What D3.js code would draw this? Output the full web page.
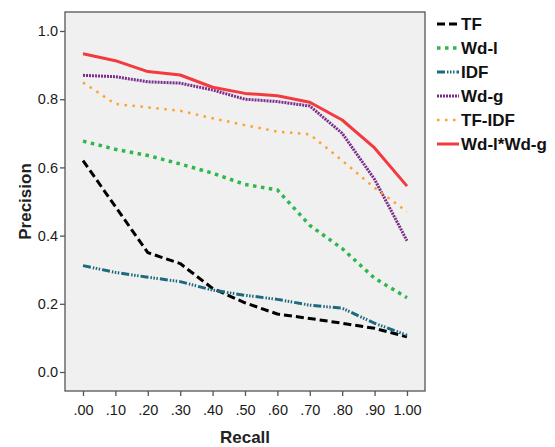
<!DOCTYPE html>
<html>
<head>
<meta charset="utf-8">
<script src="https://cdn.jsdelivr.net/npm/d3@7"></script>
<style>
  body { margin: 0; background: #fff; }
  text { font-family: "Liberation Sans", Arial, sans-serif; }
</style>
</head>
<body>
<div id="chart"></div>
<script>
// recall points on the x axis
const recall = [0, 0.1, 0.2, 0.3, 0.4, 0.5, 0.6, 0.7, 0.8, 0.9, 1.0];
const recallLabels = [".00", ".10", ".20", ".30", ".40", ".50", ".60", ".70", ".80", ".90", "1.00"];
const precisionTicks = [0, 0.2, 0.4, 0.6, 0.8, 1.0];

const seriesNames = ["TF", "Wd-l", "IDF", "Wd-g", "TF-IDF", "Wd-l*Wd-g"];
const tf =      [0.62, 0.485, 0.35, 0.318, 0.245, 0.203, 0.17, 0.157, 0.143, 0.128, 0.103];
const wdl =     [0.677, 0.653, 0.635, 0.61, 0.583, 0.55, 0.534, 0.43, 0.362, 0.275, 0.218];
const idf =     [0.312, 0.292, 0.278, 0.265, 0.24, 0.225, 0.213, 0.196, 0.187, 0.143, 0.108];
const wdg =     [0.87, 0.866, 0.851, 0.847, 0.827, 0.80, 0.793, 0.78, 0.70, 0.565, 0.385];
const tfidf =   [0.849, 0.786, 0.776, 0.766, 0.744, 0.724, 0.705, 0.697, 0.62, 0.54, 0.47];
const wdlWdg =  [0.933, 0.913, 0.881, 0.871, 0.835, 0.817, 0.81, 0.791, 0.739, 0.657, 0.545];

const styles = [
    { color: "#000000", width: 3, dash: "8,4" },
    { color: "#2cb84c", width: 3.5, dash: "3.5,4.5" },
    { color: "#1d6a7e", width: 3, dash: "8,2,1.5,1.5,1.5,1.5,1.5,2" },
    { color: "#7a2d8c", width: 3, dash: "2,1" },
    { color: "#ffa033", width: 2.5, dash: "2.5,5.5" },
    { color: "#f23a3f", width: 3, dash: null }
];

const values = [tf, wdl, idf, wdg, tfidf, wdlWdg];

const W = 555, H = 447;
const frame = { left: 65, top: 12, right: 425, bottom: 391 };

const svg = d3.select("#chart").append("svg")
    .attr("width", W)
    .attr("height", H);

const x = d3.scaleLinear()
    .domain([-0.0556, 1.0556])
    .range([frame.left, frame.right]);

const y = d3.scaleLinear()
    .domain([-0.0557, 1.0557])
    .range([frame.bottom, frame.top]);

// plot background
svg.append("rect")
    .attr("x", frame.left)
    .attr("y", frame.top)
    .attr("width", frame.right - frame.left)
    .attr("height", frame.bottom - frame.top)
    .attr("fill", "#f0f0f0")
    .attr("stroke", "#555")
    .attr("stroke-width", 1.3);

// axes
const xAxis = svg.append("g")
    .attr("transform", `translate(0,${frame.bottom})`)
    .call(d3.axisBottom(x).tickValues(recall).tickFormat((d, i) => recallLabels[i]).tickSize(5).tickSizeOuter(0));

const yAxis = svg.append("g")
    .attr("transform", `translate(${frame.left},0)`)
    .call(d3.axisLeft(y).tickValues(precisionTicks).tickFormat(d3.format(".1f")).tickSize(5).tickSizeOuter(0));

[xAxis, yAxis].forEach(g => {
    g.select(".domain").remove();
    g.selectAll("line").attr("stroke", "#555").attr("stroke-width", 1.3);
    g.selectAll("text")
        .attr("fill", "#1a1a1a")
        .attr("font-size", "14.5px")
        .style("font-family", "'Liberation Sans', Arial, sans-serif");
});
xAxis.selectAll("text").attr("dy", "1.12em");
yAxis.selectAll("text").attr("x", -7);

// axis titles
svg.append("text")
    .attr("x", (frame.left + frame.right) / 2)
    .attr("y", 443)
    .attr("text-anchor", "middle")
    .attr("font-size", "17px")
    .attr("font-weight", "bold")
    .attr("fill", "#222")
    .text("Recall");

svg.append("text")
    .attr("transform", `translate(31,${(frame.top + frame.bottom) / 2}) rotate(-90)`)
    .attr("text-anchor", "middle")
    .attr("font-size", "17px")
    .attr("font-weight", "bold")
    .attr("fill", "#222")
    .text("Precision");

// lines
const line = d3.line()
    .x((d, i) => x(recall[i]))
    .y(d => y(d));

values.forEach((vals, k) => {
    svg.append("path")
        .datum(vals)
        .attr("d", line)
        .attr("fill", "none")
        .attr("stroke", styles[k].color)
        .attr("stroke-width", styles[k].width)
        .attr("stroke-dasharray", styles[k].dash)
        .attr("stroke-linejoin", "round");
});

// legend
const legend = svg.append("g").attr("transform", "translate(437,24)");
seriesNames.forEach((name, k) => {
    const row = legend.append("g").attr("transform", `translate(0,${k * 24})`);
    row.append("line")
        .attr("x1", 0).attr("x2", 22)
        .attr("y1", 0).attr("y2", 0)
        .attr("stroke", styles[k].color)
        .attr("stroke-width", styles[k].width)
        .attr("stroke-dasharray", styles[k].dash);
    row.append("text")
        .attr("x", 24)
        .attr("y", 0)
        .attr("dy", "0.36em")
        .attr("font-size", "17px")
        .attr("font-weight", "bold")
        .attr("fill", "#111")
        .text(name);
});
</script>
</body>
</html>
